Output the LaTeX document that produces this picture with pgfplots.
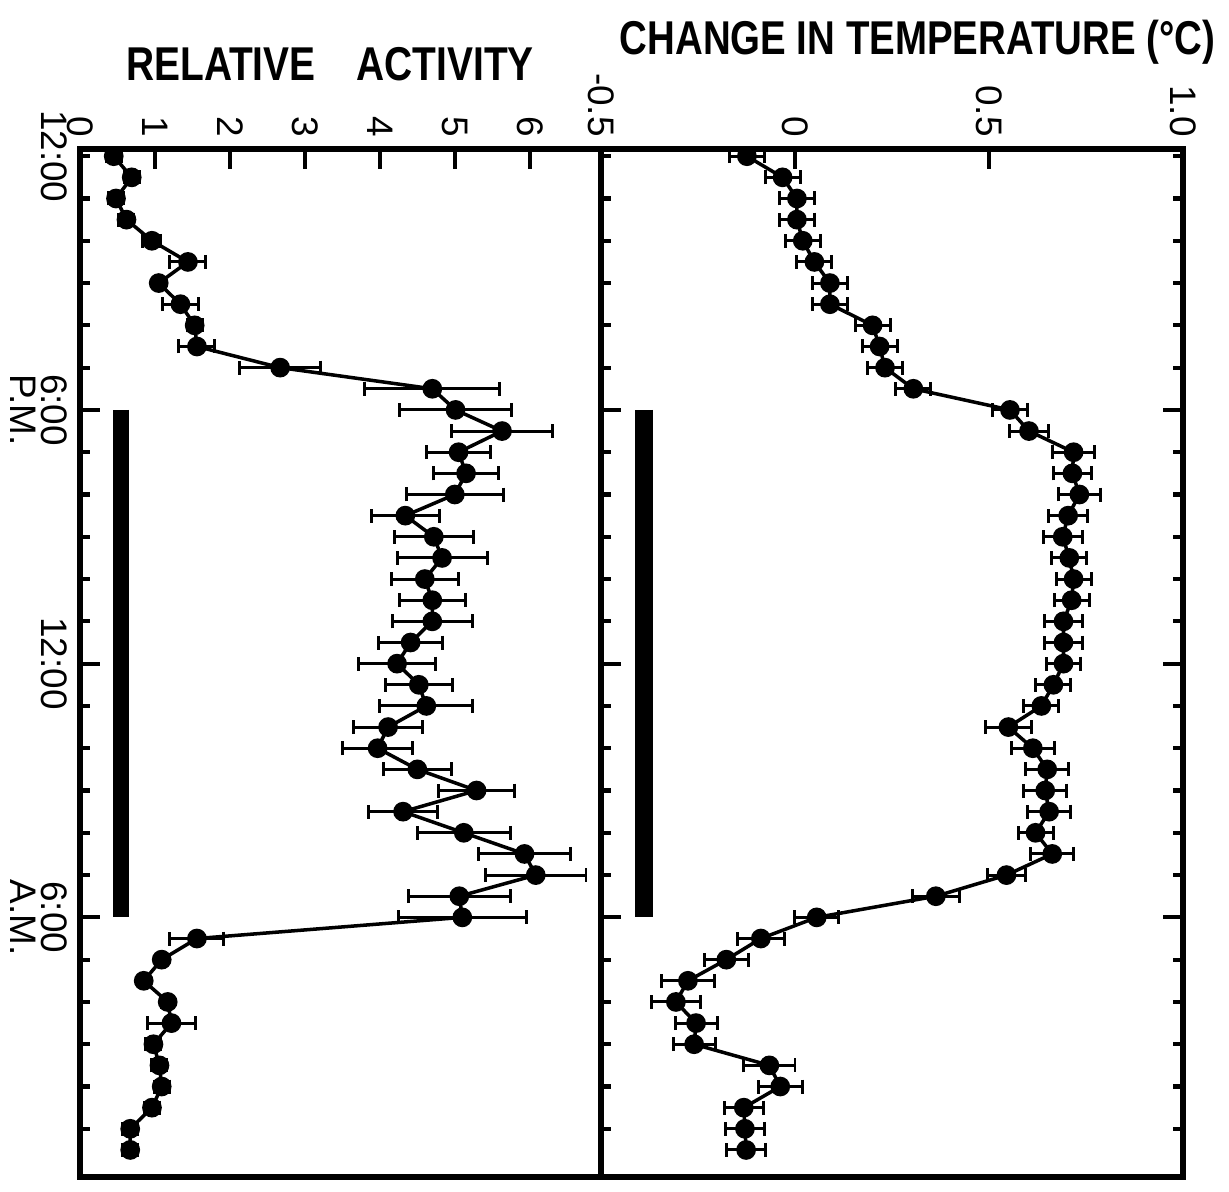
\documentclass[border=0pt]{standalone}
\usepackage{fontspec}
\setmainfont{Liberation Sans}
\usepackage{pgfplots}
\usepackage{pgfplotstable}
\pgfplotsset{compat=1.18}

% hour after noon, relative activity, error
\pgfplotstableread{
h a e
0 0.45 0.10
0.5 0.69 0.10
1 0.48 0.10
1.5 0.62 0.10
2 0.96 0.12
2.5 1.44 0.24
3 1.05 0.06
3.5 1.34 0.24
4 1.53 0.10
4.5 1.56 0.24
5 2.67 0.54
5.5 4.70 0.90
6 5.01 0.75
6.5 5.63 0.67
7 5.05 0.43
7.5 5.15 0.43
8 5.00 0.65
8.5 4.34 0.45
9 4.72 0.53
9.5 4.83 0.60
10 4.60 0.45
10.5 4.70 0.44
11 4.70 0.53
11.5 4.41 0.43
12 4.23 0.51
12.5 4.52 0.45
13 4.62 0.62
13.5 4.11 0.46
14 3.97 0.47
14.5 4.50 0.45
15 5.29 0.51
15.5 4.31 0.46
16 5.12 0.62
16.5 5.93 0.61
17 6.08 0.67
17.5 5.06 0.68
18 5.10 0.85
18.5 1.56 0.36
19 1.09 0.06
19.5 0.85 0.05
20 1.17 0.08
20.5 1.22 0.32
21 0.98 0.10
21.5 1.06 0.10
22 1.09 0.10
22.5 0.96 0.10
23 0.67 0.10
23.5 0.67 0.10
}\activity

% hour after noon, change in temperature, error
\pgfplotstableread{
h t e
0 -0.124 0.045
0.5 -0.032 0.045
1 0.005 0.045
1.5 0.005 0.045
2 0.020 0.045
2.5 0.050 0.045
3 0.090 0.045
3.5 0.090 0.045
4 0.200 0.045
4.5 0.218 0.045
5 0.232 0.045
5.5 0.305 0.045
6 0.554 0.045
6.5 0.603 0.050
7 0.718 0.055
7.5 0.715 0.050
8 0.733 0.055
8.5 0.704 0.050
9 0.690 0.050
9.5 0.707 0.045
10 0.718 0.045
10.5 0.713 0.045
11 0.692 0.050
11.5 0.692 0.050
12 0.692 0.045
12.5 0.666 0.045
13 0.635 0.045
13.5 0.550 0.060
14 0.613 0.055
14.5 0.650 0.055
15 0.645 0.055
15.5 0.655 0.055
16 0.620 0.045
16.5 0.663 0.055
17 0.545 0.050
17.5 0.363 0.060
18 0.056 0.057
18.5 -0.088 0.060
19 -0.177 0.056
19.5 -0.276 0.068
20 -0.307 0.063
20.5 -0.255 0.054
21 -0.260 0.054
21.5 -0.066 0.066
22 -0.038 0.057
22.5 -0.132 0.050
23 -0.129 0.050
23.5 -0.126 0.050
}\temperature

\pgfplotsset{
  panel/.style={
    scale only axis, height=102.8mm,
    y dir=reverse, ymin=-0.17, ymax=24.14,
    axis line style={line width=1.6pt},
    every tick/.style={black, line width=1.2pt},
    major tick length=2mm, minor tick length=1mm,
    tick align=inside,
    xtick pos=right, xticklabel pos=right,
    xticklabel style={rotate=-90, anchor=east, font=\fontsize{10.5}{11}\selectfont},
    ytick={6,12,18}, minor ytick={1,...,23},
    extra y ticks={0}, extra y tick style={major tick length=1mm},
    clip=false,
  },
  series/.style={black, line width=1pt, mark=*, mark size=2.3pt,
    mark options={solid, fill=black},
    error bars/.cd, x dir=both, x explicit,
    error mark=-,
    error bar style={line width=0.85pt, black},
    error mark options={rotate=90, line width=0.85pt, black, mark size=0.7mm}},
}

\begin{document}
\begin{tikzpicture}
\path[use as bounding box] (0,0) rectangle (122.9mm,-119.2mm);

% relative activity
\begin{axis}[panel, at={(8mm,-14.9mm)}, anchor=north west, width=52.1mm,
  xmin=0, xmax=6.95, xtick={0,...,6}, xticklabels={0,1,2,3,4,5,6},
  ytick pos=left,
  yticklabels={{6:00\\P.M.},{12:00},{6:00\\A.M.}},
  extra y tick labels={12:00},
  yticklabel style={rotate=-90, anchor=north, align=center,
    font=\fontsize{10.5}{9}\selectfont},
]
\addplot[black, line width=1.6mm, no marks] coordinates {(0.55,6) (0.55,18)};
\addplot[series] table[x=a, y=h, x error=e] {\activity};
\end{axis}

% change in temperature
\begin{axis}[panel, at={(60.1mm,-14.9mm)}, anchor=north west, width=58.2mm,
  xmin=-0.5, xmax=1.0, xtick={-0.5,0,0.5,1},
  xticklabels={-0.5,0,0.5,1.0},
  ytick pos=both, yticklabels={}, extra y tick labels={},
]
\addplot[black, line width=1.8mm, no marks] coordinates {(-0.39,6) (-0.39,18)};
\addplot[series] table[x=t, y=h, x error=e] {\temperature};
\end{axis}

\node[font=\bfseries\fontsize{13.5}{15}\selectfont, xscale=0.82] at (33mm,-6.4mm)
  {RELATIVE\hspace{1.05em}ACTIVITY};
\node[font=\bfseries\fontsize{13.5}{15}\selectfont, xscale=0.81] at (91.75mm,-4.2mm)
  {CHANGE IN TEMPERATURE (°C)};
\end{tikzpicture}
\end{document}
